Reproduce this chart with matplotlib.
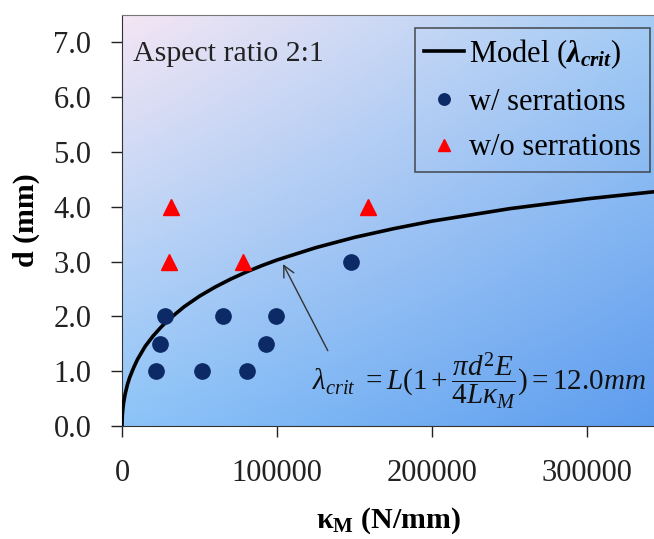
import numpy as np
import matplotlib
matplotlib.use('Agg')
from matplotlib import pyplot as plt
from matplotlib.colors import to_rgb

# data
kappa_with = [27700, 65200, 99100, 24500, 92700, 21900, 51400, 80400, 147500]
d_with = [2.0, 2.0, 2.0, 1.5, 1.5, 1.0, 1.0, 1.0, 3.0]

kappa_without = [31400, 30500, 77800, 158300]
d_without = [4.0, 3.0, 3.0, 4.0]

# model curve (lambda_crit = 12.0 mm)
kappa_model = [0, 20, 100, 250, 500, 1000, 2000, 3500, 5000, 7500, 10000, 15000,
               20000, 25000, 30000, 40000, 50000, 60000, 70000, 80000, 90000, 100000,
               125000, 150000, 175000, 200000, 250000, 300000, 350000]
d_model = [0.0, 0.061, 0.135, 0.212, 0.297, 0.416, 0.579, 0.756, 0.889, 1.064, 1.216, 1.456,
           1.641, 1.799, 1.940, 2.175, 2.370, 2.535, 2.680, 2.809, 2.925, 3.030,
           3.255, 3.443, 3.600, 3.739, 3.966, 4.146, 4.295]

xticks = [0, 100000, 200000, 300000]
yticks = [0.0, 1.0, 2.0, 3.0, 4.0, 5.0, 6.0, 7.0]

plt.rcParams['font.family'] = ['Liberation Serif', 'DejaVu Serif']
plt.rcParams['mathtext.fontset'] = 'custom'
plt.rcParams['mathtext.rm'] = 'Liberation Serif'
plt.rcParams['mathtext.it'] = 'Liberation Serif:italic'
plt.rcParams['mathtext.bf'] = 'Liberation Serif:bold'
plt.rcParams['mathtext.bfit'] = 'Liberation Serif:bold:italic'

fig = plt.figure(figsize=(6.54, 5.39), dpi=100)
ax = fig.add_axes([122/654, 113/539, 1 - 122/654, 411/539])

# gradient background: bilinear blend of corner colours
tl, tr = np.array(to_rgb('#f4e6f4')), np.array(to_rgb('#a4ccf5'))
bl, br = np.array(to_rgb('#8cc4f8')), np.array(to_rgb('#5e9cee'))
u = np.linspace(0, 1, 200)[None, :, None]
v = np.linspace(0, 1, 200)[:, None, None]
grad = (1-u)*(1-v)*tl + u*(1-v)*tr + (1-u)*v*bl + u*v*br
ax.imshow(grad, extent=[0, 1, 0, 1], transform=ax.transAxes, aspect='auto', zorder=0)

ax.plot(kappa_model, d_model, color='black', lw=2.6, zorder=3,
        label=r'Model ($\mathbfit{\lambda}_{\mathbfit{crit}}$)')
ax.plot(kappa_with, d_with, 'o', color='#0c2a66', ms=11, zorder=4, label='w/ serrations')
ax.plot(kappa_without, d_without, '^', color='#ff0000', ms=11, zorder=4, label='w/o serrations')

ax.set_xlim(0, 343000)
ax.set_ylim(0, 7.5)
ax.set_xticks(xticks)
ax.set_xticklabels([str(t) for t in xticks])
ax.set_yticks(yticks)
ax.set_yticklabels(['%.1f' % t for t in yticks])
ax.tick_params(axis='both', direction='out', length=8, width=1, labelsize=22, colors='#222222')
ax.tick_params(axis='y', pad=14)
ax.tick_params(axis='x', pad=16)

ax.spines['right'].set_visible(False)
ax.spines['top'].set_color('#777777')
ax.spines['left'].set_color('#333333')
ax.spines['bottom'].set_color('#333333')

ax.set_ylabel('d (mm)', fontsize=21.5, fontweight='bold', labelpad=10)
ax.set_xlabel(r'$\mathbf{\kappa_M}$ (N/mm)', fontsize=21.5, fontweight='bold', labelpad=12)

ax.text(0.02, 0.905, 'Aspect ratio 2:1', transform=ax.transAxes, fontsize=21.5,
        va='center', ha='left', color='#222222')

ax.annotate('', xy=(103000, 3.0), xytext=(133500, 1.33),
            arrowprops=dict(arrowstyle='->', color='#333333', lw=1, mutation_scale=20))
ax.text(230000, 0.82, r'$\lambda_{crit}\ =L(1+\dfrac{\pi d^2 E}{4L\kappa_M})=12.0mm$',
        fontsize=21, ha='center', va='center', color='#111111')

leg = ax.legend(loc='upper right', bbox_to_anchor=(0.992, 0.968), fontsize=22, frameon=True,
                fancybox=False, facecolor='none', edgecolor='#333333', handlelength=1.3,
                handletextpad=0.15, borderpad=0.3, labelspacing=0.55, markerscale=0.75,
                borderaxespad=0)
leg.get_frame().set_linewidth(1.2)

fig.savefig('out.png', dpi=100)
